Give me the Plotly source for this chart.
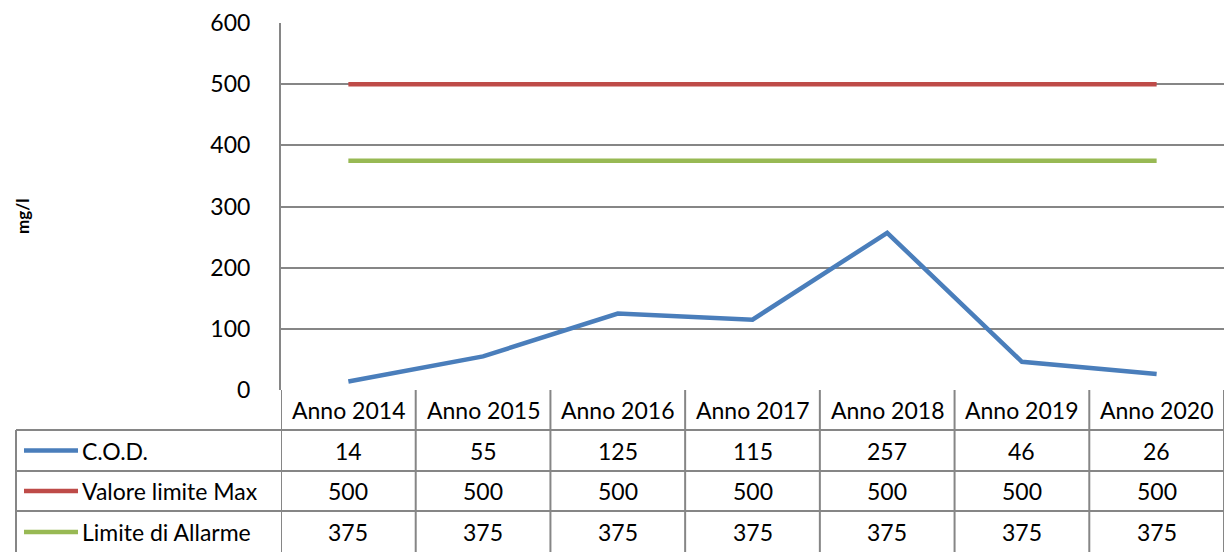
import plotly.graph_objects as go

categories = ["Anno 2014", "Anno 2015", "Anno 2016", "Anno 2017", "Anno 2018", "Anno 2019", "Anno 2020"]
cod = [14, 55, 125, 115, 257, 46, 26]
valore_max = [500, 500, 500, 500, 500, 500, 500]
limite_allarme = [375, 375, 375, 375, 375, 375, 375]
series_names = ["C.O.D.", "Valore limite Max", "Limite di Allarme"]
series_colors = ["#4A7EBB", "#BE4B48", "#98B954"]
yticks = [0, 100, 200, 300, 400, 500, 600]

W, H = 1225, 552
L, R, T, B = 281, 1, 23, 162
PH = H - T - B
PW = W - L - R
FONT = "Lato"
FS = 23
GRID = "#868686"

def py(pix):
    return (H - B - pix) / PH

def px(pix):
    return (pix - L) / PW

fig = go.Figure()
all_series = [cod, valore_max, limite_allarme]
for name, vals, col in zip(series_names, all_series, series_colors):
    fig.add_trace(go.Scatter(x=list(range(len(categories))), y=vals, mode="lines",
                             name=name, line=dict(color=col, width=4.5),
                             hoverinfo="x+y"))

shapes = []
annotations = []
n = len(categories)
row_bounds = [390, 430, 471, 511, 553]
for k in range(n + 1):
    shapes.append(dict(type="line", xref="x", yref="paper", x0=k - 0.5, x1=k - 0.5,
                       y0=py(390), y1=py(553), line=dict(color=GRID, width=2)))
shapes.append(dict(type="line", xref="paper", yref="paper", x0=px(16), x1=px(16),
                   y0=py(430), y1=py(553), line=dict(color=GRID, width=2)))
for b in row_bounds[1:-1]:
    shapes.append(dict(type="line", xref="paper", yref="paper", x0=px(16), x1=1,
                       y0=py(b), y1=py(b), line=dict(color=GRID, width=2)))

txtfont = dict(family=FONT, size=FS, color="#000")
for i, c in enumerate(categories):
    annotations.append(dict(x=i, y=py(410), xref="x", yref="paper", text=c,
                            xanchor="center", yanchor="middle",
                            showarrow=False, font=txtfont))
centers = [450.5, 491, 532]
for r, (name, vals, col) in enumerate(zip(series_names, all_series, series_colors)):
    yc = centers[r]
    for i, v in enumerate(vals):
        annotations.append(dict(x=i, y=py(yc), xref="x", yref="paper", text=str(v),
                                xanchor="center", yanchor="middle",
                                showarrow=False, font=txtfont))
    shapes.append(dict(type="line", xref="paper", yref="paper", x0=px(24), x1=px(78),
                       y0=py(yc), y1=py(yc), line=dict(color=col, width=4.5)))
    annotations.append(dict(x=px(80), y=py(yc), xref="paper", yref="paper", text=name,
                            xanchor="left", yanchor="middle", showarrow=False,
                            font=txtfont))

annotations.append(dict(x=px(22), y=py(217), xref="paper", yref="paper", text="<b>mg/l</b>",
                        textangle=-90, xanchor="center", yanchor="middle", showarrow=False,
                        font=dict(family=FONT, size=17, color="#000")))

fig.update_layout(
    width=W, height=H,
    margin=dict(l=L, r=R, t=T, b=B),
    paper_bgcolor="white", plot_bgcolor="white",
    showlegend=False,
    xaxis=dict(range=[-0.5, n - 0.5], showticklabels=False, showgrid=False, zeroline=False,
               showline=False, fixedrange=True),
    yaxis=dict(range=[0, 600], tickvals=yticks, showgrid=True, gridcolor=GRID, gridwidth=1.5,
               zeroline=False, showline=True, linecolor=GRID, linewidth=2,
               ticks="", ticklabelstandoff=24,
               tickfont=txtfont, fixedrange=True),
    shapes=shapes,
    annotations=annotations,
)

fig.write_html("out.html", config={"displayModeBar": False},
               post_script="document.body.style.margin='0';document.body.style.overflow='hidden';")
